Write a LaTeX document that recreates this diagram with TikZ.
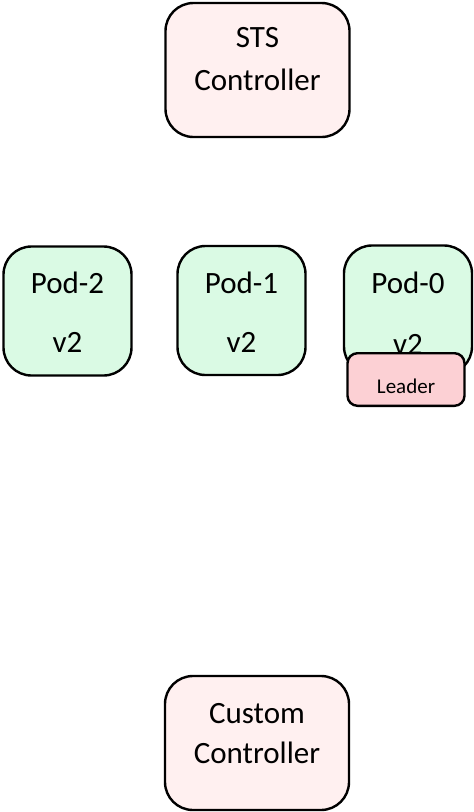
\documentclass[tikz,border=0pt]{standalone}
\usepackage{fontspec}
\setmainfont{Carlito}
\tikzset{
  box/.style={draw=black, line width=2.4pt, rounded corners=28pt, inner sep=0pt},
  ctrl/.style={box, fill=ctrlpink, minimum width=184pt, minimum height=134pt},
  pod/.style={box, fill=podgreen, minimum width=128pt, minimum height=129pt},
  leaderbox/.style={box, fill=leaderpink, rounded corners=10pt, minimum width=117pt, minimum height=52.6pt},
  txt/.style={anchor=base, inner sep=0pt, font=\fontsize{31}{37}\selectfont},
  smalltxt/.style={anchor=base, inner sep=0pt, font=\fontsize{21}{25}\selectfont}
}
\definecolor{ctrlpink}{RGB}{255,240,240}
\definecolor{podgreen}{RGB}{218,250,228}
\definecolor{leaderpink}{RGB}{252,208,212}
\begin{document}
\begin{tikzpicture}[x=1pt,y=-1pt]
\useasboundingbox (0,0) rectangle (474,812);
% STS controller
\node[ctrl] (sts) at (257.5,70) {};
\node[txt] (ststa) at (257.5,47) {STS};
\node[txt] (ststb) at (257.5,90) {Controller};
% Pods
\node[pod] (pod2) at (67.5,311) {};
\node[txt] (pod2a) at (67.5,293) {Pod-2};
\node[txt] (pod2b) at (67.5,352) {v2};
\node[pod] (pod1) at (241.5,310.5) {};
\node[txt] (pod1a) at (241.5,293) {Pod-1};
\node[txt] (pod1b) at (241.5,352) {v2};
\node[pod] (pod0) at (408,310) {};
\node[txt] (pod0a) at (408,293) {Pod-0};
\node[txt] (pod0b) at (408,354) {v2};
% Leader
\node[leaderbox] (leader) at (406,379.5) {};
\node[smalltxt] (leadert) at (406,393) {Leader};
% Custom controller
\node[ctrl] (custom) at (257,743) {};
\node[txt] (customa) at (257,723) {Custom};
\node[txt] (customb) at (257,763) {Controller};
\end{tikzpicture}
\end{document}
